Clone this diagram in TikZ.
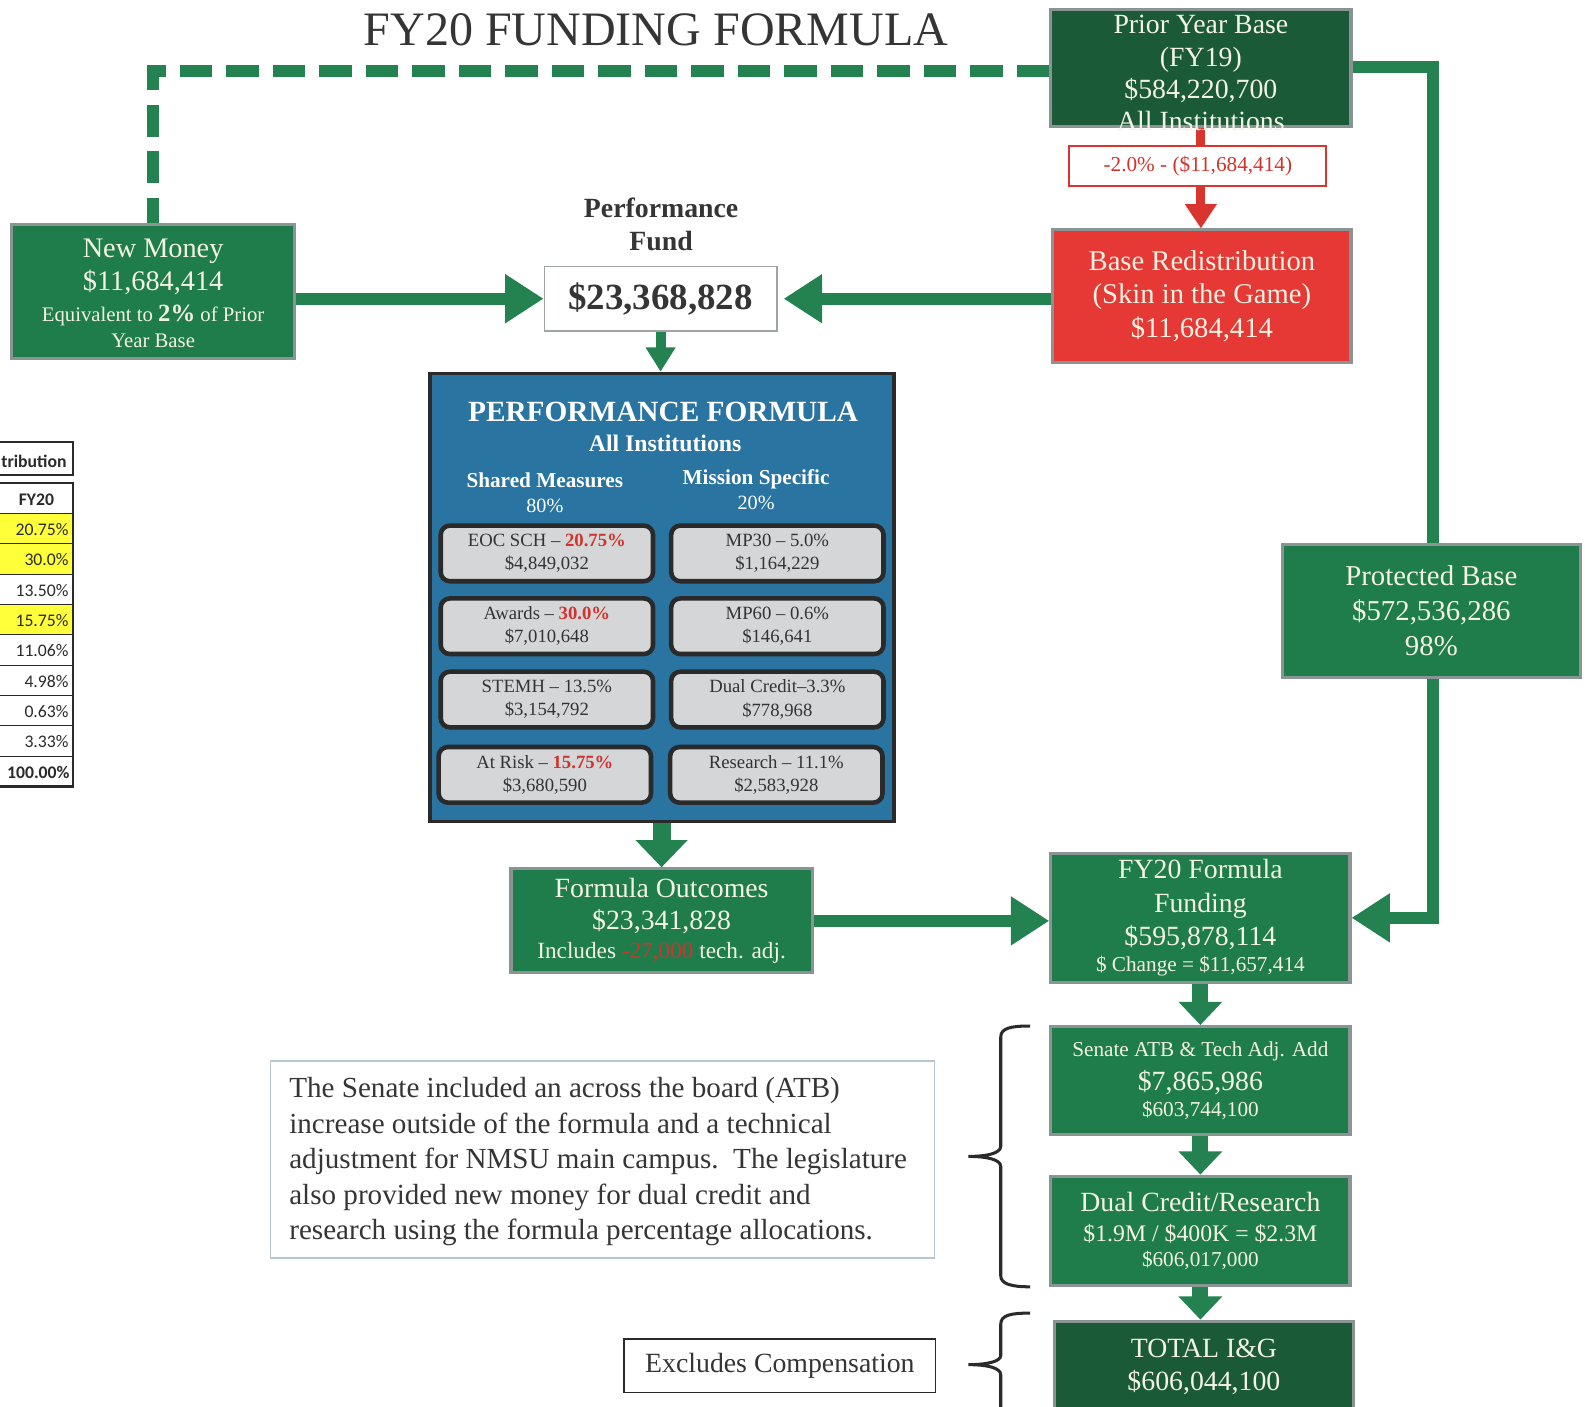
\documentclass[tikz,border=0pt]{standalone}
\usepackage{fontspec}
\setmainfont{Liberation Serif}
\newfontfamily\calibrifont{Carlito}
\usetikzlibrary{arrows.meta}
\newcommand\setfs[2]{\fontsize{#1}{#2}\selectfont}
\definecolor{gmid}{HTML}{1E7D4B}
\definecolor{gdark}{HTML}{1A5A37}
\definecolor{garrow}{HTML}{238250}
\definecolor{redfill}{HTML}{E63935}
\definecolor{rline}{HTML}{D9352E}
\definecolor{redtxt}{HTML}{D0342C}
\definecolor{pblue}{HTML}{2A74A2}
\definecolor{edge}{HTML}{8A9494}
\definecolor{cream}{HTML}{F4F2E4}
\definecolor{igray}{HTML}{D4D6D8}
\definecolor{ink}{HTML}{2A2A2A}
\definecolor{txtgray}{HTML}{333333}
\definecolor{titlegray}{HTML}{353535}
\definecolor{fundedge}{HTML}{A0A4A4}
\definecolor{noteedge}{HTML}{B8C6D4}
\definecolor{tyellow}{HTML}{FFFF3A}
\begin{document}
\begin{tikzpicture}[x=1pt,y=-1pt,line join=miter,
 box/.style={draw=edge,line width=3pt,inner sep=0pt,text=cream,align=center},
 gbox/.style={box,fill=gmid},
 dgbox/.style={box,fill=gdark},
 redbox/.style={box,fill=redfill},
 btext/.style={text=cream,align=center,inner sep=0pt},
 ibox/.style={draw=ink,line width=4.5pt,rounded corners=9pt,fill=igray,text=txtgray,align=center,inner sep=0pt,minimum width=210pt,minimum height=55pt,font=\setfs{18.5}{23}},
 gline/.style={draw=garrow,line width=12pt},
 dashline/.style={gline,dash pattern=on 32pt off 14pt},
 bigarrow/.style={gline,-{Triangle[width=46pt,length=38pt]}},
 smallarrow/.style={gline,line width=10pt,-{Triangle[width=28pt,length=24pt]}},
 midarrow/.style={gline,line width=18pt,-{Triangle[width=50pt,length=27pt]}},
 downarrow/.style={gline,line width=16pt,-{Triangle[width=42pt,length=23pt]}},
 redconn/.style={draw=rline,line width=9pt},
 redarrow/.style={redconn,-{Triangle[width=30pt,length=24pt]}},
 cell/.style={draw=ink,line width=1pt,minimum width=80pt,minimum height=30pt,inner sep=0pt},
 celltxt/.style={inner sep=0pt,text=ink,font=\calibrifont\setfs{17.5}{20}}
]
\useasboundingbox (0,0) rectangle (1568,1391);
\fill[white] (0,0) rectangle (1568,1391);

% title
\node[font=\setfs{47.5}{50},text=titlegray,inner sep=0pt] (title) at (649,29) {FY20 FUNDING FORMULA};

% boxes
\node[dgbox,minimum width=297,minimum height=116] (prior) at (1188,67.5) {};
\node[draw=rline,line width=2pt,fill=white,minimum width=254,minimum height=40,inner sep=0pt,text=redtxt,font=\setfs{21}{24}] (cut) at (1185,164) {-2.0\% - (\$11,684,414)};
\node[redbox,minimum width=295,minimum height=131,font=\setfs{28.3}{33.5}] (redist) at (1189,293) {Base Redistribution\\(Skin in the Game)\\\$11,684,414};
\node[gbox,minimum width=280,minimum height=132] (newmoney) at (151.5,288.5) {};
\node[font=\bfseries\setfs{27.5}{32},text=titlegray,align=center,inner sep=0pt] (pflabel) at (654,222) {Performance\\Fund};
\node[draw=fundedge,line width=1.5pt,fill=white,minimum width=230,minimum height=64,inner sep=0pt,font=\bfseries\setfs{36.5}{38},text=titlegray] (fund) at (653.5,295.5) {\$23,368,828};
\node[draw=ink,line width=3.5pt,fill=pblue,minimum width=459,minimum height=443,inner sep=0pt] (pf) at (655,591) {};
\node[gbox,minimum width=295,minimum height=132,font=\setfs{28.5}{34.5}] (protected) at (1416,604.5) {Protected Base\\\$572,536,286\\98\%};
\node[gbox,minimum width=298,minimum height=103,font=\setfs{27.5}{32}] (fo) at (654.5,911) {Formula Outcomes\\\$23,341,828\\[-3pt]{\setfs{23}{24}Includes {\color{redtxt}-27,000} tech. adj.}};
\node[gbox,minimum width=296,minimum height=127,font=\setfs{27.5}{33}] (fy20) at (1187.5,908) {FY20 Formula\\Funding\\\$595,878,114\\[-7pt]{\setfs{21}{22}\$ Change = \$11,657,414}};
\node[gbox,minimum width=296,minimum height=107,font=\setfs{21}{25}] (senate) at (1187.5,1069) {Senate ATB \& Tech Adj. Add\\[9pt]{\setfs{27.5}{30}\$7,865,986}\\{\setfs{21}{22}\$603,744,100}};
\node[gbox,minimum width=296,minimum height=108,font=\setfs{27.5}{29.5}] (dual) at (1187.5,1217.5) {Dual Credit/Research\\{\setfs{23.5}{25}\$1.9M / \$400K = \$2.3M}\\[-5pt]{\setfs{21}{22}\$606,017,000}};
\node[dgbox,minimum width=295,minimum height=110] (total) at (1191,1362) {};
\node[draw=noteedge,line width=1.5pt,fill=white,minimum width=657,minimum height=195,inner sep=0pt] (note) at (596,1147) {};
\node[draw=ink,line width=1.5pt,fill=white,minimum width=308,minimum height=53,inner sep=0pt,font=\setfs{27.5}{30},text=titlegray] (excl) at (771.5,1351) {Excludes Compensation};

% connectors
\draw[dashline] ([yshift=-2.5pt]prior.west) -| (newmoney.north);
\draw[gline] ([yshift=1pt]prior.east) -| ([xshift=2pt]protected.north);
\draw[bigarrow] ([xshift=2pt]protected.south) |- (fy20.east);
\draw[bigarrow] (newmoney.east |- fund.west) -- (fund.west);
\draw[bigarrow] (redist.west |- fund.east) -- ([xshift=6pt]fund.east);
\draw[smallarrow] (fund.south) -- (fund.south |- pf.north);
\draw[midarrow] (pf.south -| fo.north) -- (fo.north);
\draw[bigarrow] (fo.east) -- (fo.east -| fy20.west);
\draw[downarrow] (fy20.south) -- (senate.north);
\draw[downarrow] (senate.south) -- (dual.north);
\draw[downarrow] (dual.south) -- (dual.south |- total.north);
\draw[redconn] (prior.south) -- (prior.south |- cut.north);
\draw[redarrow] (prior.south |- cut.south) -- (prior.south |- redist.north);

% box texts
\node[btext,font=\setfs{27.5}{32}] (priortxt) at (1188,72.5) {Prior Year Base\\(FY19)\\\$584,220,700\\All Institutions};
\node[btext,font=\setfs{28}{33}] (newmoneytxt) at (151.5,290) {New Money\\\$11,684,414\\[-3pt]{\setfs{20.5}{24}Equivalent to {\setfs{24.5}{26}\bfseries 2\%} of Prior}\\[-7pt]{\setfs{20.5}{24}Year Base}};
\node[btext,font=\setfs{27.5}{33}] (totaltxt) at (1191,1352) {TOTAL I\&G\\\$606,044,100};

% performance formula contents
\node[font=\bfseries\setfs{29}{30},text=white,inner sep=0pt] (pftitle) at (656,408) {PERFORMANCE FORMULA};
\node[font=\bfseries\setfs{23.5}{26},text=white,inner sep=0pt] (pfsub) at (658,439) {All Institutions};
\node[text=white,align=center,inner sep=0pt,font=\setfs{20}{25}] (shared) at (539,487.5) {{\bfseries\setfs{21}{25}Shared Measures}\\80\%};
\node[text=white,align=center,inner sep=0pt,font=\setfs{20}{25}] (mission) at (748,484.5) {{\bfseries\setfs{21}{25}Mission Specific}\\20\%};
\node[ibox] (eoc) at (541,547.5) {EOC SCH -- {\bfseries\color{redtxt}20.75\%}\\\$4,849,032};
\node[ibox] (awards) at (541,619.5) {Awards -- {\bfseries\color{redtxt}30.0\%}\\\$7,010,648};
\node[ibox] (stemh) at (541,692) {STEMH -- 13.5\%\\\$3,154,792};
\node[ibox] (atrisk) at (539,766.5) {At Risk -- {\bfseries\color{redtxt}15.75\%}\\\$3,680,590};
\node[ibox] (mp30) at (769,547.5) {MP30 -- 5.0\%\\\$1,164,229};
\node[ibox] (mp60) at (769,619.5) {MP60 -- 0.6\%\\\$146,641};
\node[ibox] (dualc) at (769,692) {Dual Credit--3.3\%\\\$778,968};
\node[ibox] (research) at (768,766.5) {Research -- 11.1\%\\\$2,583,928};

% note text
\node[anchor=north west,align=left,inner sep=0pt,font=\setfs{28.8}{35},text=titlegray] (notetxt) at (286,1066) {The Senate included an across the board (ATB)\\increase outside of the formula and a technical\\adjustment for NMSU main campus.\ \ The legislature\\also provided new money for dual credit and\\research using the formula percentage allocations.};

% braces
\draw[ink,line width=3pt] (1019,1015) .. controls (1000,1015) and (990,1017) .. (990,1026) -- (990,1134) .. controls (990,1141) and (976,1144) .. (958,1144) .. controls (976,1144) and (990,1147) .. (990,1154) -- (990,1262) .. controls (990,1270) and (1000,1273) .. (1019,1273);
\draw[ink,line width=3pt] (1019,1299) .. controls (1000,1299) and (990,1301) .. (990,1310) -- (990,1341) .. controls (990,1347) and (976,1350) .. (958,1350) .. controls (976,1350) and (990,1353) .. (990,1360) -- (990,1395);

% partial table
\node[draw=ink,line width=2pt,minimum width=80,minimum height=33,inner sep=0pt] (thead) at (32,453.5) {};
\node[celltxt,anchor=east] (theadtxt) at (66,456) {\bfseries tribution};
\node[cell,fill=white] (c0) at (32,493) {};
\node[celltxt] (v0) at (36,494) {\bfseries FY20};
\foreach \i/\v/\c in {1/20.75\%/tyellow,2/30.0\%/tyellow,3/13.50\%/white,4/15.75\%/tyellow,5/11.06\%/white,6/4.98\%/white,7/0.63\%/white,8/3.33\%/white}{
  \node[cell,fill=\c] (c\i) at (32,493+30*\i) {};
  \node[celltxt,anchor=east] (v\i) at (68,494+30*\i) {\v};
}
\node[cell,fill=white] (c9) at (32,763) {};
\node[celltxt,anchor=east] (v9) at (69,764) {\bfseries 100.00\%};
\draw[ink,line width=2.5pt] (-8,478) rectangle (72,778);
\end{tikzpicture}
\end{document}
